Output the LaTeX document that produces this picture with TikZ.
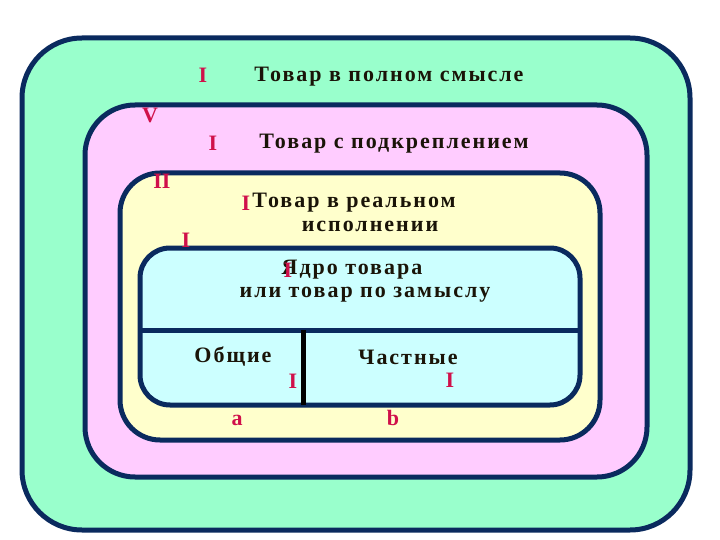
\documentclass[tikz,border=0pt]{standalone}
\usepackage{fontspec}
\setmainfont{Liberation Serif}
\definecolor{navy}{HTML}{0A2A5E}
\definecolor{gr}{HTML}{99FFCC}
\definecolor{pk}{HTML}{FFCCFF}
\definecolor{yl}{HTML}{FFFFCC}
\definecolor{cy}{HTML}{CCFFFF}
\definecolor{rd}{HTML}{D0104A}
\definecolor{tx}{HTML}{1A1408}
\tikzset{
 box/.style={draw=navy,line width=5pt},
 lbl/.style={font=\bfseries\fontsize{22}{24}\selectfont\addfontfeature{LetterSpace=9},text=tx,inner sep=0pt,align=center},
 rn/.style={font=\bfseries\fontsize{22}{24}\selectfont,text=rd,inner sep=0pt}
}
\begin{document}
\begin{tikzpicture}[x=1pt,y=-1pt]
\useasboundingbox (0,0) rectangle (720,540);
\fill[white] (0,0) rectangle (720,540);
\draw[box,fill=gr,rounded corners=60pt] (22,38) rectangle (690,530);
\draw[box,fill=pk,rounded corners=50pt] (85,105) rectangle (647,477);
\draw[box,fill=yl,rounded corners=40pt] (120,173) rectangle (600,440);
\draw[box,fill=cy,rounded corners=30pt] (140,248) rectangle (580,405);
\coordinate (hl) at (140,330); \coordinate (hr) at (580,330);
\coordinate (vt) at (303,330); \coordinate (vb) at (303,405);
\draw[draw=navy,line width=5pt] (hl) -- (hr);
\draw[black,line width=5pt] (vt) -- (vb);
\node[lbl] (t1) at (389,77) {Товар в полном смысле};
\node[rn] (r1) at (203,75) {I};
\node[rn] (r5) at (150,115) {V};
\node[rn] (r2) at (213,143) {I};
\node[lbl] (t2) at (394,144) {Товар с подкреплением};
\node[rn] (r3) at (162,181) {II};
\node[lbl] (t3) at (354,203) {Товар в реальном};
\node[rn] (r3b) at (246,203) {I};
\node[lbl] (t3b) at (370,226) {исполнении};
\node[rn] (r4) at (186,240) {I};
\node[lbl] (t4) at (352,270) {Ядро товара};
\node[rn] (r4b) at (288,270) {I};
\node[lbl] (t4b) at (365,295) {или товар по замыслу};
\node[lbl] (o) at (233,357) {Общие};
\node[lbl] (c) at (408,357) {Частные};
\node[rn] (ro) at (293,381) {I};
\node[rn] (rc) at (450,380) {I};
\node[rn] (a) at (237,420) {a};
\node[rn] (b) at (393,418) {b};
\end{tikzpicture}
\end{document}
